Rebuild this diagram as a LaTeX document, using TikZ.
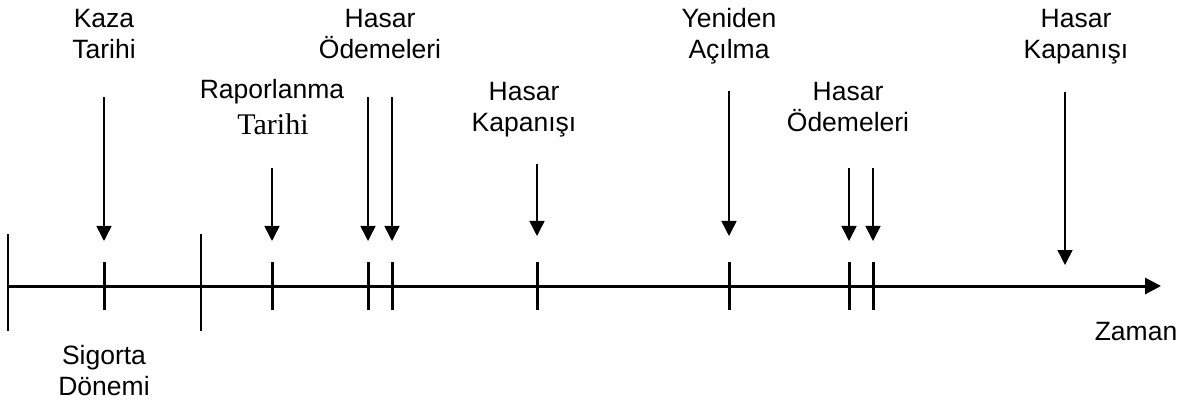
\documentclass[tikz,border=0pt]{standalone}
\usepackage{fontspec}
\setmainfont{Liberation Sans}
\newfontfamily\timesfont{Liberation Serif}
\usepackage{tikz}
\usetikzlibrary{arrows.meta,positioning}

\begin{document}
\begin{tikzpicture}[x=1pt, y=-1pt,
    lbl/.style={font=\fontsize{26.5}{31}\selectfont, align=center, anchor=base, inner sep=0pt},
    ptr/.style={-{Triangle[length=15pt,width=15pt]}, line width=1.5pt},
    tick/.style={line width=3pt},
    bound/.style={line width=1.5pt}]
            \useasboundingbox (0,0) rectangle (1190,403);
            % time axis
            \coordinate (start) at (8,286);
            \coordinate (end) at (1161,286);
            \draw[line width=3pt, -{Triangle[length=16pt,width=16pt]}] (start) -- (end);
            % insurance period
            \coordinate (p0) at (8,286);
            \coordinate (p1) at (201,286);
            \draw[bound] (p0) ++(0,-52) -- ++(0,97);
            \draw[bound] (p1) ++(0,-52) -- ++(0,97);
            % ticks on the axis
            \coordinate (kaza) at (104,286);
            \coordinate (rapor) at (272,286);
            \coordinate (odeA) at (368,286);
            \coordinate (odeB) at (392,286);
            \coordinate (kapA) at (537,286);
            \coordinate (yeni) at (729,286);
            \coordinate (odeC) at (849,286);
            \coordinate (odeD) at (873,286);
            \draw[tick] (kaza) ++(0,-24) -- ++(0,48);
            \draw[tick] (rapor) ++(0,-24) -- ++(0,48);
            \draw[tick] (odeA) ++(0,-24) -- ++(0,48);
            \draw[tick] (odeB) ++(0,-24) -- ++(0,48);
            \draw[tick] (kapA) ++(0,-24) -- ++(0,48);
            \draw[tick] (yeni) ++(0,-24) -- ++(0,48);
            \draw[tick] (odeC) ++(0,-24) -- ++(0,48);
            \draw[tick] (odeD) ++(0,-24) -- ++(0,48);
            % arrow ends
            \coordinate (kazaT) at (104,97);   \coordinate (kazaB) at (104,241);
            \coordinate (raporT) at (272,168); \coordinate (raporB) at (272,241);
            \coordinate (odeAT) at (368,97);   \coordinate (odeAB) at (368,241);
            \coordinate (odeBT) at (392,97);   \coordinate (odeBB) at (392,241);
            \coordinate (kapAT) at (537,164);  \coordinate (kapAB) at (537,236);
            \coordinate (yeniT) at (729,91);   \coordinate (yeniB) at (729,236);
            \coordinate (odeCT) at (849,168);  \coordinate (odeCB) at (849,241);
            \coordinate (odeDT) at (873,168);  \coordinate (odeDB) at (873,241);
            \coordinate (kapBT) at (1065,92);  \coordinate (kapBB) at (1065,265);
            \path[ptr] (kazaT) edge (kazaB);
            \path[ptr] (raporT) edge (raporB);
            \path[ptr] (odeAT) edge (odeAB);
            \path[ptr] (odeBT) edge (odeBB);
            \path[ptr] (kapAT) edge (kapAB);
            \path[ptr] (yeniT) edge (yeniB);
            \path[ptr] (odeCT) edge (odeCB);
            \path[ptr] (odeDT) edge (odeDB);
            \path[ptr] (kapBT) edge (kapBB);
            % labels (anchored at the baseline of the last line)
            \node[lbl] (kazalbl) at (104,59) {Kaza\\Tarihi};
            \node[lbl] (raporlbl) at (272,99) {Raporlanma};
            \node[lbl, font=\fontsize{30}{36}\selectfont\timesfont] (raportar) at (273,135) {Tarihi};
            \node[lbl] (odelbl) at (380,59) {Hasar\\Ödemeleri};
            \node[lbl] (kaplbl) at (524,132) {Hasar\\Kapanışı};
            \node[lbl] (yenilbl) at (729,59) {Yeniden\\Açılma};
            \node[lbl] (ode2lbl) at (848,132) {Hasar\\Ödemeleri};
            \node[lbl] (kap2lbl) at (1076,59) {Hasar\\Kapanışı};
            \node[lbl] (zamanlbl) at (1136,340) {Zaman};
            \node[lbl] (sigortalbl) at (104,395) {Sigorta\\Dönemi};
        \end{tikzpicture}
\end{document}
